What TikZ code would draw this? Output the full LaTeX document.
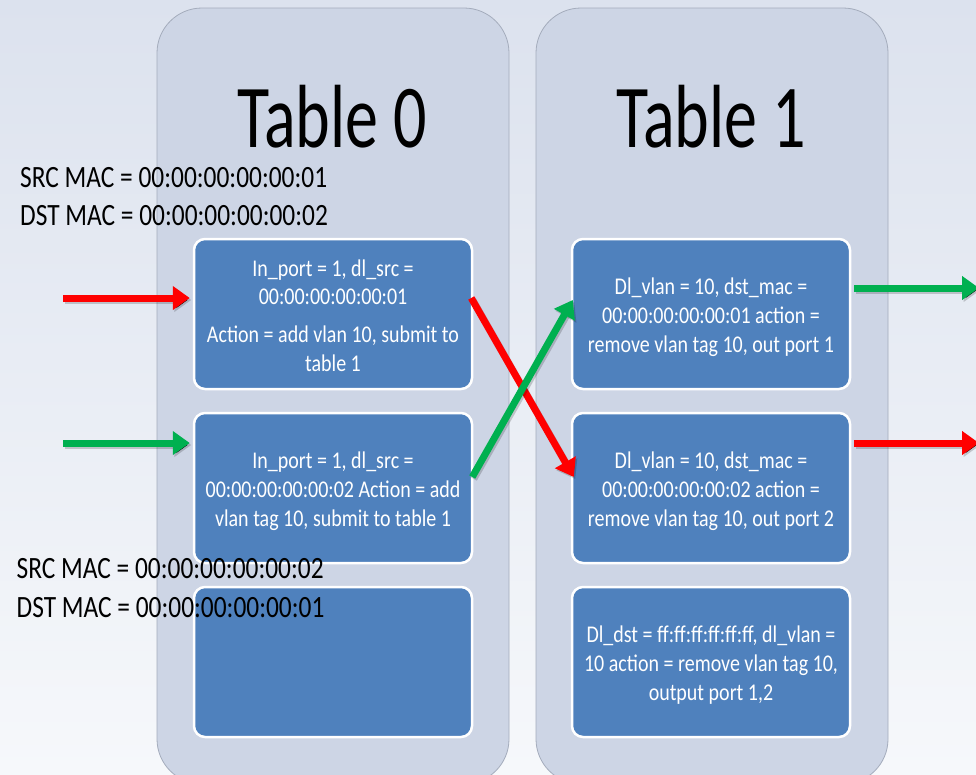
\documentclass[tikz,border=0pt]{standalone}
\usepackage{fontspec}
\setmainfont{Carlito}
\usetikzlibrary{arrows.meta}

\definecolor{bgtop}{HTML}{DCE2EE}
\definecolor{bgbot}{HTML}{F6F8FB}
\definecolor{panelfill}{HTML}{CDD5E5}
\definecolor{paneledge}{HTML}{A4ACBC}
\definecolor{boxblue}{HTML}{4F81BD}
\definecolor{flowred}{HTML}{FF0000}
\definecolor{flowgreen}{HTML}{00B050}

% vertical stretch of a piece of text
\newcommand{\vstretch}[2]{\scalebox{1}[#1]{#2}}
% centred lines of a flow entry, slightly stretched
\newcommand{\entry}[1]{\vstretch{1.2}{\begin{tabular}{@{}c@{}}#1\end{tabular}}}

\begin{document}
\begin{tikzpicture}[x=1pt,y=-1pt,
  panel/.style={fill=panelfill, draw=paneledge, line width=0.8pt, rounded corners=45pt},
  flowbox/.style={rounded corners=11pt, fill=boxblue, draw=white, line width=2.5pt,
    minimum width=278pt, minimum height=150pt, inner sep=0pt},
  entrytext/.style={inner sep=0pt, text=white, font=\fontsize{20}{24}\selectfont},
  tabletitle/.style={font=\fontsize{66}{70}\selectfont, anchor=base, inner sep=0pt},
  maclabel/.style={font=\fontsize{25.4}{30}\selectfont, anchor=base west, inner sep=0pt},
  flow/.style={line width=7pt, -{Triangle[length=17pt,width=23pt]},
    preaction={draw=black, draw opacity=0.18, line width=7pt,
      transform canvas={shift={(1.5pt,-2pt)}}}},
]
\useasboundingbox (0,0) rectangle (976,774);
\clip (0,0) rectangle (976,774);

% background
\shade[top color=bgtop, bottom color=bgbot] (0,0) rectangle (976,774);

% the two table panels
\draw[panel] (157,8) rectangle (509,784);
\draw[panel] (536,8) rectangle (888,784);

% titles
\node[tabletitle] (t0) at (332,147) {\vstretch{1.36}{Table 0}};
\node[tabletitle] (t1) at (711,147) {\vstretch{1.36}{Table 1}};

% flow entries of table 0
\node[flowbox] (A) at (333,314) {};
\node[flowbox] (B) at (333,488) {};
\node[flowbox] (C) at (333,662) {};

% flow entries of table 1
\node[flowbox] (D) at (711,314) {};
\node[flowbox] (E) at (711,488) {};
\node[flowbox] (F) at (711,662) {};

% texts of the entries
\node[entrytext] (At) at ([yshift=-4pt]A.center) {\entry{In\_port = 1, dl\_src =\\ 00:00:00:00:00:01\\[7.5pt] Action = add vlan 10, submit to\\ table 1}};
\node[entrytext] (Bt) at ([yshift=-4pt]B.center) {\entry{In\_port = 1, dl\_src =\\ 00:00:00:00:00:02 Action = add\\ vlan tag 10, submit to table 1}};
\node[entrytext] (Dt) at ([yshift=-4pt]D.center) {\entry{Dl\_vlan = 10, dst\_mac =\\ 00:00:00:00:00:01 action =\\ remove vlan tag 10, out port 1}};
\node[entrytext] (Et) at ([yshift=-4pt]E.center) {\entry{Dl\_vlan = 10, dst\_mac =\\ 00:00:00:00:00:02 action =\\ remove vlan tag 10, out port 2}};
\node[entrytext] (Ft) at ([yshift=-4pt]F.center) {\entry{Dl\_dst = ff:ff:ff:ff:ff:ff, dl\_vlan =\\ 10 action = remove vlan tag 10,\\ output port 1,2}};

% ends of the incoming and outgoing flows
\coordinate (inR) at (63,298);
\coordinate (inG) at (63,443);
\coordinate (outG) at (979,288);
\coordinate (outR) at (979,443);

% packet flows
\draw[flow, flowred] (inR) -- ([yshift=16pt,xshift=-3pt]A.west);
\draw[flow, flowgreen] (inG) -- ([yshift=45pt,xshift=-3pt]B.west);
\draw[flow, flowred] ([yshift=16pt,xshift=-2pt]A.east) -- ([yshift=11pt,xshift=3pt]E.west);
\draw[flow, flowgreen] ([yshift=11pt,xshift=-1pt]B.east) -- ([yshift=14pt,xshift=2pt]D.west);
\draw[flow, flowgreen] ([yshift=26pt,xshift=3pt]D.east) -- (outG);
\draw[flow, flowred] ([yshift=45pt,xshift=3pt]E.east) -- (outR);

% packet headers
\node[maclabel] (s1) at (20,187) {\vstretch{1.22}{SRC MAC = 00:00:00:00:00:01}};
\node[maclabel] (d1) at (20,225) {\vstretch{1.22}{DST MAC = 00:00:00:00:00:02}};
\node[maclabel] (s2) at (16.5,578) {\vstretch{1.22}{SRC MAC = 00:00:00:00:00:02}};
\node[maclabel] (d2) at (16.5,617) {\vstretch{1.22}{DST MAC = 00:00:00:00:00:01}};
\end{tikzpicture}
\end{document}
